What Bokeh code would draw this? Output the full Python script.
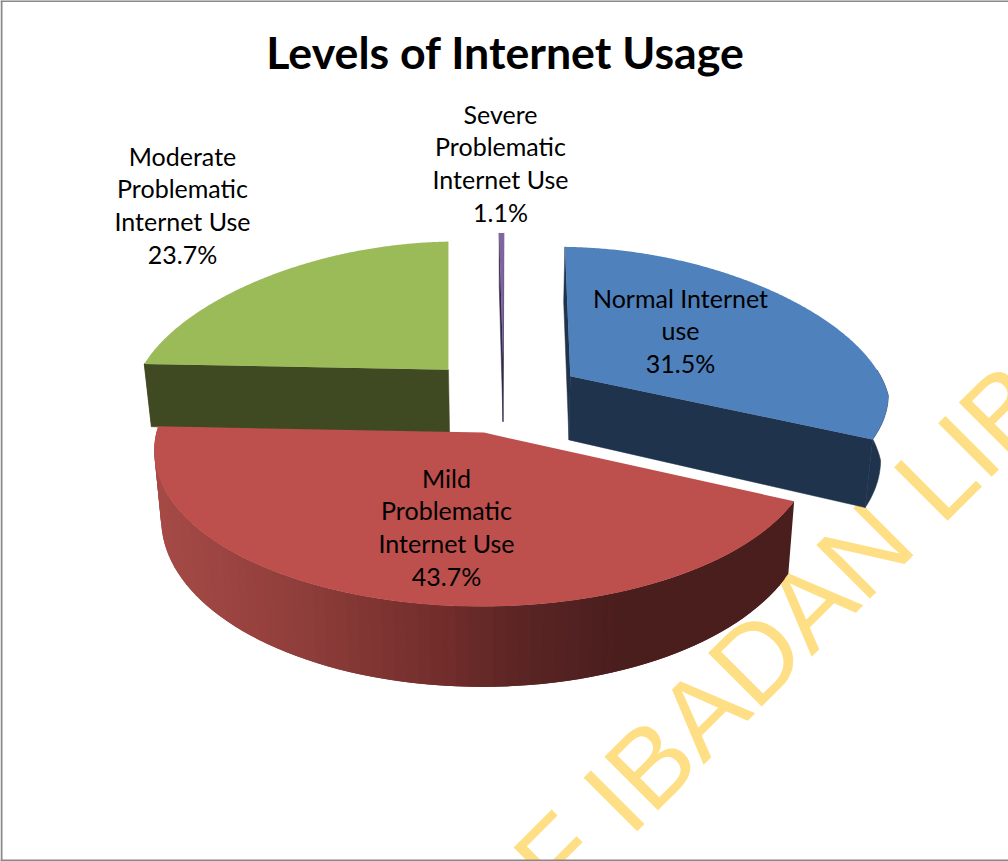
import numpy as np
from bokeh.plotting import figure
from bokeh.core.properties import value
from bokeh.embed import file_html
from bokeh.resources import INLINE

# Survey shares, clockwise from twelve o'clock
categories = ["Normal Internet use", "Mild Problematic Internet Use",
              "Moderate Problematic Internet Use", "Severe Problematic Internet Use"]
shares = [31.5, 43.7, 23.7, 1.1]
title_text = "Levels of Internet Usage"
label_lines = [["Normal Internet", "use"],
               ["Mild", "Problematic", "Internet Use"],
               ["Moderate", "Problematic", "Internet Use"],
               ["Severe", "Problematic", "Internet Use"]]

top_colors = ["#4F81BD", "#BD4F4C", "#9BBB59", "#8064A2"]
wall_colors = ["#1F334D", "#4B1E1E", "#404A22", "#33284A"]

# Layout of the tilted pie, in page pixels
W, H = 1008, 861
CX, CY = 503, 395
RX, RY = 319, 147
PERSP = 0.106
FAR_NARROW = 0.10
EXPLODE = 0.23
EXPLODE_X, EXPLODE_Y = 1.10, 1.10
ROTATION = 1.6
DEPTH = 65
BOTTOM_SCALE = 0.98
# Slices at the far rim are foreshortened; the thin rear slice reads narrower
FORESHORTEN = [1.0, 1.0, 1.0, 0.27]
# Which radial walls face the viewer: 0 is a slice's first edge, -1 its last
VISIBLE_WALLS = [(0, -1), (), (0,), (0, -1)]

WATERMARK = "UNIVERSITY OF IBADAN LIBRARY"


def ground(theta_deg, radius, apex):
    t = np.radians(theta_deg)
    return apex[0] + radius * np.sin(t), apex[1] - radius * np.cos(t)


def project(X, Y, bottom=False):
    s = 1.0 / (1.0 - PERSP * Y)
    narrow = 1.0 + FAR_NARROW * np.minimum(Y, 0.0)
    px = RX * X * s * narrow
    py = CY + RY * Y * s
    if bottom:
        return CX + px * BOTTOM_SCALE, py + DEPTH * s ** 1.5
    return CX + px, py


def lerp_hex(stops, x):
    xs = [a for a, _ in stops]
    rgb = [[int(c[i:i + 2], 16) for c in (b for _, b in stops)] for i in (1, 3, 5)]
    return "#%02x%02x%02x" % tuple(int(round(np.interp(x, xs, ch))) for ch in rgb)


RED_WALL_STOPS = [(160, "#A54A46"), (300, "#903E3B"), (450, "#712D2B"),
                  (530, "#5A2524"), (620, "#4B1E1E"), (800, "#4B1E1E")]

p = figure(width=W, height=H, x_range=(0, W), y_range=(H, 0),
           output_backend="svg", toolbar_location=None, min_border=0)
p.axis.visible = False
p.grid.visible = False
p.outline_line_color = None
p.background_fill_color = "white"

# Library stamp running diagonally behind the chart
p.text(x=[616], y=[797], text=[WATERMARK], angle=[45], angle_units="deg",
       text_font=value("Liberation Sans"), text_font_size="110px",
       text_color="#FEDF85", text_align="center", text_baseline="middle")

# Thin page frame
for xs, ys in (([1, 1], [0, H]), ([0, W], [0.5, 0.5]), ([0, W], [860, 860])):
    p.line(xs, ys, line_color="#888888", line_width=2)

starts = np.cumsum([0] + shares[:-1]) * 3.6 + ROTATION
sweeps = np.array(shares) * 3.6

label_centres = [(680, 297), (446, 477), (182, 155), (500, 113)]
LINE_STEP = 32.8

for i in [2, 3, 0, 1]:
    mid = starts[i] + sweeps[i] / 2
    half = sweeps[i] * FORESHORTEN[i] / 2
    theta = np.linspace(mid - half, mid + half, 240)
    ox, oy = ground(mid, EXPLODE, (0.0, 0.0))
    apex = (ox * EXPLODE_X, oy * EXPLODE_Y)
    gx, gy = ground(theta, 1.0, apex)
    tx, ty = project(gx, gy)
    bx, by = project(gx, gy, bottom=True)
    ax, ay = project(*apex)
    abx, aby = project(*apex, bottom=True)

    # Radial walls that can be seen from the viewer's side
    for tip in VISIBLE_WALLS[i]:
        p.patch([ax, tx[tip], bx[tip], abx], [ay, ty[tip], by[tip], aby],
                fill_color=wall_colors[i], line_color=wall_colors[i], line_width=0.5)

    # Outer rim: only the part facing the front, shaded along its length on the large slice
    front = np.cos(np.radians(theta)) < 0.05
    if i == 1:
        step, overlap = 3, 3
        for j in range(0, len(tx) - step, step):
            k = min(j + step + overlap, len(tx) - 1)
            p.patch([tx[j], tx[k], bx[k], bx[j]], [ty[j], ty[k], by[k], by[j]],
                    fill_color=lerp_hex(RED_WALL_STOPS, tx[j]), line_color=None)
    elif front.any():
        p.patch(np.r_[tx[front], bx[front][::-1]], np.r_[ty[front], by[front][::-1]],
                fill_color=wall_colors[i], line_color=wall_colors[i], line_width=0.5)

    # Top face
    p.patch(np.r_[ax, tx], np.r_[ay, ty], fill_color=top_colors[i], line_color=None)

# Slice labels: category wrapped over lines, then the share
for i, (lx, ly) in enumerate(label_centres):
    lines = label_lines[i] + [f"{shares[i]}%"]
    p.text(x=[lx] * len(lines), y=[ly + k * LINE_STEP for k in range(len(lines))], text=lines,
           text_font=value("Lato"), text_font_size="25px", text_color="#000000",
           text_align="center", text_baseline="middle")

p.text(x=[505], y=[51], text=[title_text], text_font=value("Lato"), text_font_size="44.7px",
       text_font_style="bold", text_color="#000000", text_align="center", text_baseline="middle")

open("out.html", "w").write(file_html(p, INLINE))
